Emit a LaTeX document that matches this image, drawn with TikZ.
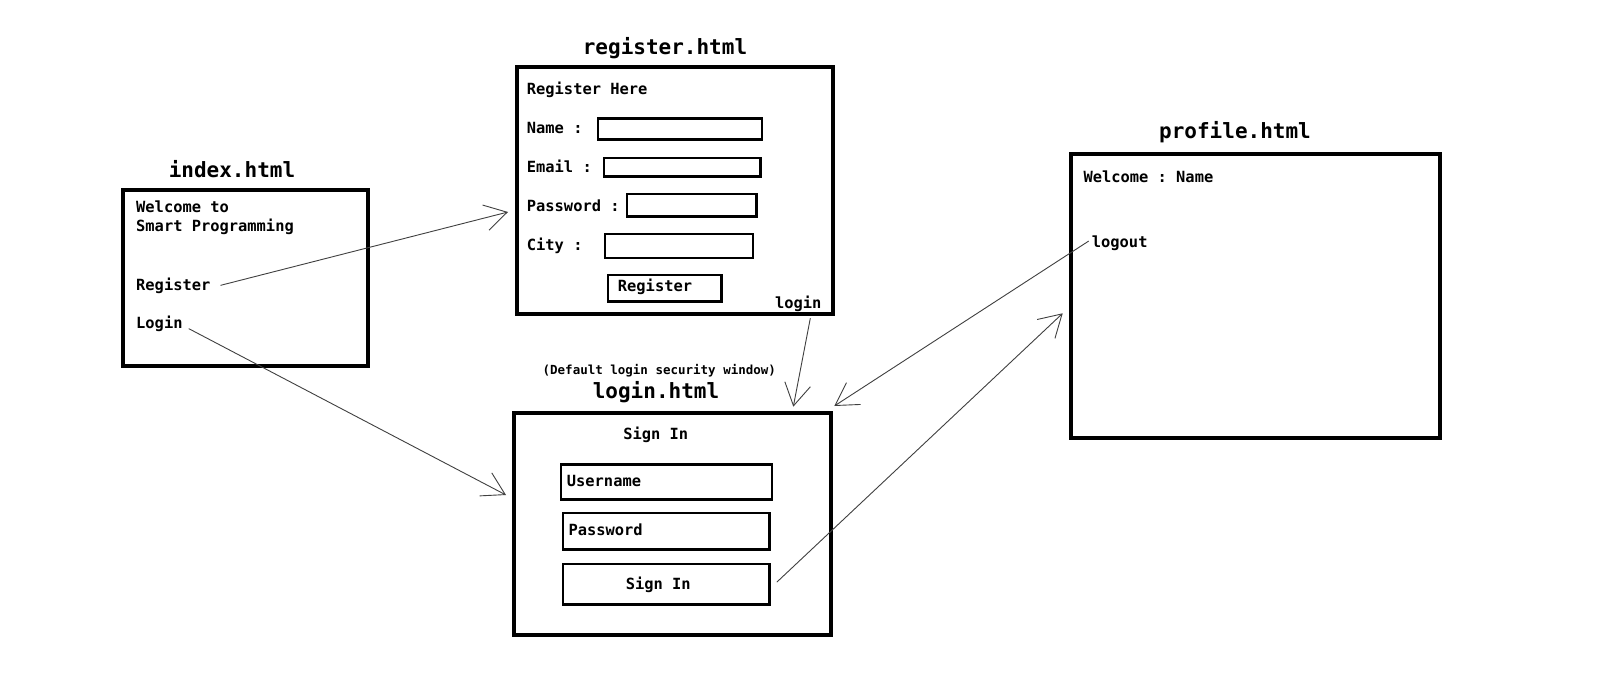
\documentclass[tikz,border=0pt]{standalone}
\usepackage{fontspec}
\setmonofont{DejaVu Sans Mono}
\usetikzlibrary{arrows.meta}
\begin{document}
\begin{tikzpicture}[x=1pt,y=-1pt,
  page/.style={draw, line width=4pt, inner sep=0pt, anchor=north west},
  field/.style={draw, line width=2.6pt, inner sep=0pt, anchor=north west},
  txt/.style={font=\ttfamily\bfseries\fontsize{15.4}{18}\selectfont, inner sep=0pt, anchor=base west},
  ctxt/.style={font=\ttfamily\bfseries\fontsize{15.4}{18}\selectfont, inner sep=0pt, anchor=base},
  ttl/.style={font=\ttfamily\bfseries\fontsize{21}{25}\selectfont, inner sep=0pt, anchor=base},
  captxt/.style={font=\ttfamily\bfseries\fontsize{12.5}{15}\selectfont, inner sep=0pt, anchor=base},
  link/.style={draw=black!75, line width=0.9pt, -{Straight Barb[length=22pt,width=26pt]}}
]
\useasboundingbox[fill=white] (0,0) rectangle (1600,682);

% index.html
\node[ttl] (idxttl) at (232,177.7) {index.html};
\node[page, minimum width=245pt, minimum height=176pt] (idx) at (121,188) {};
\node[txt] (idxw1) at (136,212.7) {Welcome to};
\node[txt] (idxw2) at (136,231.7) {Smart Programming};
\node[txt] (idxreg) at (136,290) {Register};
\node[txt] (idxlog) at (136,328.3) {Login};

% register.html
\node[ttl] (regttl) at (665,55) {register.html};
\node[page, minimum width=316pt, minimum height=247pt] (regbox) at (515,65) {};
\node[txt] (reghere) at (526.7,95) {Register Here};
\node[txt] (lname) at (526.7,134) {Name :};
\node[field, minimum width=164pt, minimum height=20.7pt] (fname) at (596.5,117.5) {};
\node[txt] (lemail) at (526.7,172.3) {Email :};
\node[field, minimum width=156.4pt, minimum height=18.7pt] (femail) at (602.5,156.5) {};
\node[txt] (lpass) at (526.7,211) {Password :};
\node[field, minimum width=129.4pt, minimum height=22.4pt] (fpass) at (625.5,192.5) {};
\node[txt] (lcity) at (526.7,250) {City :};
\node[field, minimum width=147.7pt, minimum height=24pt] (fcity) at (603.8,232.5) {};
\node[field, minimum width=113.4pt, minimum height=26.1pt] (regbtn) at (606.5,273.8) {};
\node[ctxt] (regbtntxt) at (655,291) {Register};
\node[txt, anchor=base east] (rlogin) at (821.7,308.3) {login};

% login.html
\node[captxt] (logcap) at (659.3,374) {(Default login security window)};
\node[ttl] (logttl) at (656,398.3) {login.html};
\node[page, minimum width=317pt, minimum height=222pt] (logbox) at (512,411) {};
\node[ctxt] (signttl) at (655.7,439) {Sign In};
\node[field, minimum width=210.7pt, minimum height=35.1pt] (fuser) at (559.8,463.1) {};
\node[txt] (luser) at (566.7,486.7) {Username};
\node[field, minimum width=206.7pt, minimum height=36.7pt] (fpass2) at (561.5,511.5) {};
\node[txt] (lpass2) at (568.3,535) {Password};
\node[field, minimum width=206.7pt, minimum height=40.7pt] (sbtn) at (561.5,562.5) {};
\node[ctxt] (sbtntxt) at (658.3,589.3) {Sign In};

% profile.html
\node[ttl] (prottl) at (1235,138.3) {profile.html};
\node[page, minimum width=369pt, minimum height=284pt] (probox) at (1068.5,152) {};
\node[txt] (welname) at (1083.3,182.3) {Welcome : Name};
\node[txt] (logout) at (1091.7,247.3) {logout};

% connector end points
\coordinate (t1) at (508,212);
\coordinate (t2) at (506,495);
\coordinate (t3) at (793.3,406.7);
\coordinate (t4) at (834.3,406);
\coordinate (t5) at (1062.7,313.3);

\draw[link] ([xshift=10pt]idxreg.east) -- (t1);
\draw[link] ([shift={(6,5)}]idxlog.east) -- (t2);
\draw[link] ([shift={(12,6.5)}]rlogin.south) -- (t3);
\draw[link] ([shift={(-3,-2)}]logout.west) -- (t4);
\draw[link] ([shift={(6,-2)}]sbtn.east) -- (t5);
\end{tikzpicture}
\end{document}
